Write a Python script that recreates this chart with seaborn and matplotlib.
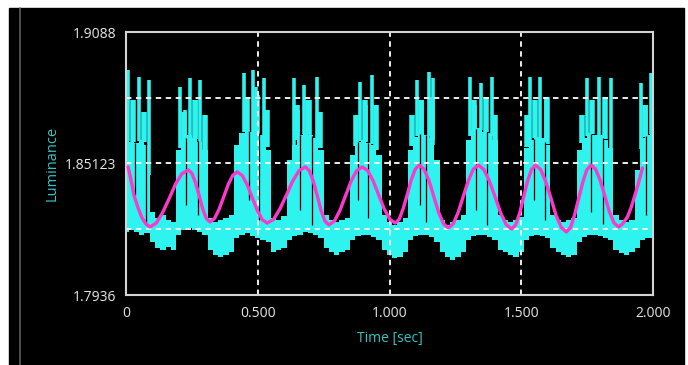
import numpy as np
import matplotlib
matplotlib.use('Agg')
import matplotlib.pyplot as plt
import seaborn as sns
from matplotlib.patches import Rectangle
from matplotlib.lines import Line2D

# luminance trace, read as a band (upper / lower envelope) every 20 ms
t_sample = np.round(np.arange(101) * 0.02, 2)
band_top = [
    1.8615, 1.8606, 1.8602, 1.8615, 1.8593, 1.8300, 1.8273, 1.8286, 1.8265, 1.8256,
    1.8571, 1.8615, 1.8637, 1.8624, 1.8606, 1.8571, 1.8273, 1.8256, 1.8265, 1.8273,
    1.8286, 1.8593, 1.8646, 1.8659, 1.8650, 1.8646, 1.8637, 1.8571, 1.8273, 1.8265,
    1.8282, 1.8527, 1.8593, 1.8637, 1.8646, 1.8637, 1.8624, 1.8571, 1.8286, 1.8265,
    1.8256, 1.8265, 1.8273, 1.8549, 1.8606, 1.8615, 1.8602, 1.8593, 1.8549, 1.8286,
    1.8256, 1.8243, 1.8256, 1.8273, 1.8571, 1.8628, 1.8646, 1.8637, 1.8624, 1.8527,
    1.8265, 1.8243, 1.8256, 1.8265, 1.8286, 1.8615, 1.8659, 1.8668, 1.8650, 1.8646,
    1.8615, 1.8286, 1.8265, 1.8256, 1.8265, 1.8278, 1.8580, 1.8615, 1.8628, 1.8624,
    1.8593, 1.8286, 1.8265, 1.8256, 1.8265, 1.8273, 1.8571, 1.8624, 1.8646, 1.8637,
    1.8637, 1.8615, 1.8580, 1.8286, 1.8265, 1.8256, 1.8265, 1.8484, 1.8624, 1.8637,
    1.8646,
]
band_bottom = [
    1.8212, 1.8221, 1.8212, 1.8199, 1.8208, 1.8168, 1.8142, 1.8133, 1.8146, 1.8133,
    1.8199, 1.8221, 1.8230, 1.8221, 1.8212, 1.8199, 1.8133, 1.8111, 1.8103, 1.8111,
    1.8124, 1.8186, 1.8199, 1.8208, 1.8194, 1.8186, 1.8177, 1.8168, 1.8124, 1.8133,
    1.8142, 1.8177, 1.8194, 1.8199, 1.8212, 1.8208, 1.8199, 1.8186, 1.8142, 1.8124,
    1.8111, 1.8124, 1.8133, 1.8177, 1.8194, 1.8199, 1.8199, 1.8190, 1.8177, 1.8133,
    1.8111, 1.8098, 1.8103, 1.8124, 1.8177, 1.8194, 1.8199, 1.8199, 1.8190, 1.8168,
    1.8124, 1.8103, 1.8089, 1.8103, 1.8124, 1.8177, 1.8194, 1.8199, 1.8199, 1.8190,
    1.8177, 1.8133, 1.8124, 1.8111, 1.8103, 1.8124, 1.8177, 1.8194, 1.8199, 1.8194,
    1.8186, 1.8142, 1.8124, 1.8111, 1.8103, 1.8111, 1.8168, 1.8190, 1.8199, 1.8199,
    1.8194, 1.8186, 1.8177, 1.8133, 1.8120, 1.8111, 1.8124, 1.8142, 1.8177, 1.8186,
    1.8186,
]

# narrow flicker spikes above the band
spike_t = [
    0.008, 0.051, 0.089, 0.205, 0.224, 0.243, 0.266, 0.281, 0.446, 0.460,
    0.481, 0.494, 0.522, 0.636, 0.653, 0.674, 0.699, 0.724, 0.889, 0.912,
    0.933, 0.950, 1.104, 1.124, 1.149, 1.166, 1.307, 1.326, 1.349, 1.368,
    1.388, 1.535, 1.554, 1.573, 1.595, 1.749, 1.770, 1.795, 1.816, 1.839,
    1.953, 1.972, 1.992,
]
spike_top = [
    1.8922, 1.8891, 1.8878, 1.8847, 1.8746, 1.8887, 1.8790, 1.8878, 1.8908, 1.8768,
    1.8922, 1.8847, 1.8887, 1.8887, 1.8746, 1.8856, 1.8790, 1.8891, 1.8869, 1.8768,
    1.8900, 1.8746, 1.8878, 1.8790, 1.8913, 1.8887, 1.8891, 1.8768, 1.8865, 1.8790,
    1.8891, 1.8891, 1.8768, 1.8891, 1.8803, 1.8887, 1.8768, 1.8891, 1.8790, 1.8887,
    1.8865, 1.8768, 1.8908,
]

# wider, lower bursts between the spikes
shoulder_t = [
    0.027, 0.068, 0.220, 0.262, 0.300, 0.460, 0.498, 0.536, 0.650, 0.691,
    0.737, 0.874, 0.908, 0.950, 1.086, 1.121, 1.162, 1.322, 1.368, 1.402,
    1.523, 1.554, 1.596, 1.732, 1.770, 1.816, 1.968,
]
shoulder_top = [
    1.8790, 1.8738, 1.8738, 1.8790, 1.8724, 1.8803, 1.8812, 1.8746, 1.8768, 1.8790,
    1.8738, 1.8724, 1.8790, 1.8768, 1.8724, 1.8790, 1.8803, 1.8790, 1.8803, 1.8724,
    1.8724, 1.8790, 1.8803, 1.8724, 1.8790, 1.8803, 1.8768,
]

# short drop-outs inside the bursts (dark gaps in the trace)
dip_t = [
    0.034, 0.076, 0.228, 0.274, 0.467, 0.505, 0.661, 0.707, 0.881, 0.919,
    1.117, 1.140, 1.330, 1.371, 1.550, 1.592, 1.766, 1.812, 1.975,
]
dip_bottom = [
    1.8374, 1.8243, 1.8330, 1.8286, 1.8352, 1.8265, 1.8308, 1.8243, 1.8352, 1.8273,
    1.8330, 1.8256, 1.8308, 1.8243, 1.8352, 1.8265, 1.8300, 1.8247, 1.8286,
]

# fitted sinusoid (magenta)
fit_t = [
    0.008, 0.019, 0.030, 0.046, 0.061, 0.076, 0.091,
    0.115, 0.139, 0.164, 0.188, 0.212, 0.236,
    0.250, 0.264, 0.278, 0.291, 0.305, 0.319,
    0.336, 0.353, 0.371, 0.388, 0.405, 0.422,
    0.441, 0.460, 0.479, 0.498, 0.517, 0.536,
    0.560, 0.584, 0.609, 0.633, 0.657, 0.681,
    0.696, 0.711, 0.726, 0.740, 0.755, 0.770,
    0.791, 0.812, 0.833, 0.854, 0.875, 0.896,
    0.917, 0.938, 0.959, 0.980, 1.001, 1.022,
    1.037, 1.052, 1.068, 1.083, 1.098, 1.113,
    1.131, 1.150, 1.168, 1.186, 1.205, 1.223,
    1.242, 1.261, 1.280, 1.299, 1.318, 1.337,
    1.358, 1.379, 1.401, 1.422, 1.443, 1.464,
    1.479, 1.494, 1.509, 1.524, 1.539, 1.554,
    1.574, 1.593, 1.613, 1.632, 1.652, 1.671,
    1.687, 1.702, 1.718, 1.734, 1.749, 1.765,
    1.782, 1.800, 1.817, 1.834, 1.852, 1.869,
    1.884, 1.903, 1.918, 1.934, 1.945, 1.960,
]
fit_lum = [
    1.8497, 1.8440, 1.8374, 1.8317, 1.8273, 1.8247, 1.8234,
    1.8251, 1.8297, 1.8359, 1.8422, 1.8467, 1.8484,
    1.8469, 1.8427, 1.8370, 1.8313, 1.8271, 1.8256,
    1.8271, 1.8311, 1.8366, 1.8420, 1.8460, 1.8475,
    1.8460, 1.8419, 1.8363, 1.8307, 1.8266, 1.8251,
    1.8267, 1.8313, 1.8374, 1.8436, 1.8481, 1.8497,
    1.8480, 1.8434, 1.8370, 1.8307, 1.8260, 1.8243,
    1.8260, 1.8307, 1.8370, 1.8434, 1.8480, 1.8497,
    1.8481, 1.8436, 1.8374, 1.8313, 1.8268, 1.8251,
    1.8268, 1.8315, 1.8378, 1.8442, 1.8488, 1.8505,
    1.8487, 1.8436, 1.8368, 1.8299, 1.8248, 1.8230,
    1.8248, 1.8299, 1.8368, 1.8436, 1.8487, 1.8505,
    1.8486, 1.8435, 1.8365, 1.8295, 1.8244, 1.8225,
    1.8244, 1.8295, 1.8365, 1.8435, 1.8486, 1.8505,
    1.8485, 1.8432, 1.8359, 1.8285, 1.8232, 1.8212,
    1.8232, 1.8285, 1.8359, 1.8432, 1.8485, 1.8505,
    1.8487, 1.8437, 1.8370, 1.8302, 1.8252, 1.8234,
    1.8247, 1.8278, 1.8322, 1.8383, 1.8427, 1.8492,
]

y_ticks = [1.7936, 1.85123, 1.9088]
y_tick_labels = ['1.7936', '1.85123', '1.9088']
x_ticks = [0, 0.5, 1.0, 1.5, 2.0]
x_tick_labels = ['0', '0.500', '1.000', '1.500', '2.000']
grid_x = [0.5, 1.0, 1.5]
grid_y = [1.8224, 1.85123, 1.8800]

CYAN = '#2ff3ee'
MAGENTA = '#ff38cc'
TEAL = '#38c4c4'

sns.set_theme(style='dark')
plt.rcParams['font.family'] = ['Open Sans', 'DejaVu Sans']

fig = plt.figure(figsize=(6.88, 3.65), dpi=100)
fig.patch.set_facecolor('white')
fig.patches.append(Rectangle((9 / 688, 0), 675 / 688, 357 / 365,
                             transform=fig.transFigure, color='black', zorder=-10))
fig.lines.append(Line2D([20 / 688, 20 / 688], [0, 357 / 365],
                        transform=fig.transFigure, color='#5c5c5c', lw=1.2, zorder=-5))

ax = fig.add_axes([126 / 688, 70 / 365, 527 / 688, 263 / 365])
ax.set_facecolor('black')

# cyan trace: band + shoulders + spikes, then the dark drop-outs
ax.fill_between(t_sample, band_bottom, band_top, step='mid', color=CYAN, lw=0, zorder=1)
shoulder_base = np.interp(shoulder_t, t_sample, band_top)
ax.vlines(shoulder_t, shoulder_base, shoulder_top, color=CYAN, lw=4.0, zorder=1)
spike_base = np.interp(spike_t, t_sample, band_top)
ax.vlines(spike_t, spike_base, spike_top, color=CYAN, lw=2.6, zorder=1)
dip_base = np.interp(dip_t, t_sample, band_top)
ax.vlines(dip_t, dip_bottom, dip_base, color='black', lw=0.9, zorder=1.5)

for gx in grid_x:
    ax.axvline(gx, color='white', lw=1.3, ls=(0, (3, 2.5)), zorder=2)
for gy in grid_y:
    ax.axhline(gy, color='white', lw=1.3, ls=(0, (3, 2.5)), zorder=2)

sns.lineplot(x=fit_t, y=fit_lum, color=MAGENTA, lw=2.4, sort=False, ax=ax, zorder=3)

ax.set_xlim(0, 2.0)
ax.set_ylim(1.7936, 1.9088)
ax.set_xticks(x_ticks)
ax.set_xticklabels(x_tick_labels)
ax.set_yticks(y_ticks)
ax.set_yticklabels(y_tick_labels)
ax.grid(False)
ax.tick_params(axis='both', length=0, labelsize=10, labelcolor='#e8e8e8')
ax.tick_params(axis='x', pad=8)
ax.tick_params(axis='y', pad=7)
for s in ax.spines.values():
    s.set_visible(True)
    s.set_color('#d4d4d4')
    s.set_linewidth(1.5)

ax.set_xlabel('Time [sec]', color=TEAL, fontsize=10, labelpad=7)
ax.set_ylabel('Luminance', color=TEAL, fontsize=10.5, labelpad=4)

plt.savefig('out.png', dpi=100, facecolor=fig.get_facecolor())
plt.close()
